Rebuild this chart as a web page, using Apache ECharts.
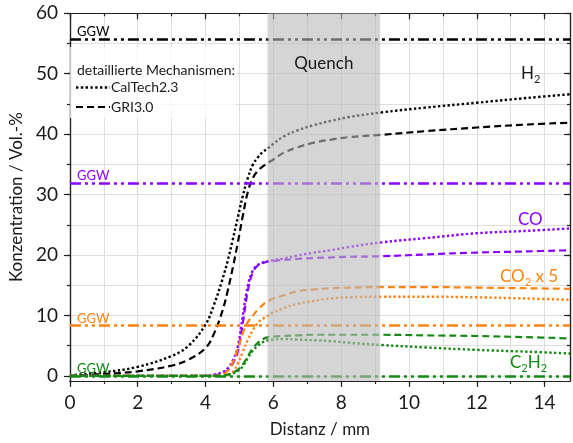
<!DOCTYPE html>
<html>
<head>
<meta charset="utf-8">
<script src="https://cdn.jsdelivr.net/npm/echarts@6/dist/echarts.min.js"></script>
<style>
  html, body { margin: 0; padding: 0; background: #fff; }
  #chart { width: 573px; height: 443px; }
</style>
</head>
<body>
<div id="chart"></div>
<script>
// Distanz in mm (shared x positions of all curves)
const xDist = [0, 1, 2, 3, 3.5, 4, 4.25, 4.5, 4.65, 4.8, 4.95, 5.1, 5.25, 5.4, 5.55, 5.7, 5.85, 6.0, 6.3, 6.7, 7.2, 7.7, 8.2, 9.2, 10.5, 12, 13.5, 14.75];

// H2
const h2CalTech = [0.1, 0.6, 1.5, 3.3, 5.0, 8.5, 11.8, 16.0, 19.0, 22.5, 26.2, 29.8, 32.8, 35.0, 36.2, 37.1, 37.7, 38.4, 39.6, 40.6, 41.5, 42.2, 42.8, 43.6, 44.4, 45.2, 46.0, 46.6];
const h2Gri = [0, 0.3, 0.75, 1.7, 2.7, 4.6, 7.0, 10.8, 14.0, 17.8, 22.0, 26.5, 30.5, 32.8, 34.0, 34.7, 35.3, 35.8, 36.9, 37.8, 38.6, 39.1, 39.5, 39.9, 40.5, 41.1, 41.6, 41.9];
// CO
const coCalTech = [0, 0, 0, 0, 0, 0, 0.2, 0.6, 1.2, 2.5, 4.8, 10.0, 15.0, 17.5, 18.4, 18.8, 19.0, 19.15, 19.4, 19.9, 20.4, 20.8, 21.3, 22.1, 22.8, 23.6, 24.0, 24.4];
const coGri = [0, 0, 0, 0, 0, 0, 0.1, 0.4, 0.9, 2.0, 4.0, 8.8, 14.2, 17.2, 18.3, 18.7, 18.9, 19.0, 19.2, 19.35, 19.5, 19.6, 19.7, 19.8, 20.1, 20.4, 20.6, 20.8];
// CO2 x 5
const co2CalTech = [0, 0, 0, 0, 0, 0, 0, 0, 0.1, 0.6, 2.0, 4.0, 6.0, 7.6, 8.8, 9.5, 10.0, 10.5, 11.2, 11.9, 12.4, 12.8, 13.0, 13.1, 13.1, 13.0, 12.8, 12.6];
const co2Gri = [0, 0, 0, 0, 0, 0, 0, 0.2, 0.8, 2.2, 4.4, 7.1, 8.9, 10.0, 11.0, 11.8, 12.4, 12.8, 13.3, 14.0, 14.3, 14.5, 14.6, 14.7, 14.7, 14.6, 14.5, 14.4];
// C2H2
const c2h2CalTech = [0, 0, 0, 0, 0, 0, 0, 0, 0.15, 0.4, 0.8, 1.6, 3.0, 4.2, 5.0, 5.6, 5.9, 6.0, 6.1, 6.0, 5.9, 5.75, 5.5, 5.1, 4.7, 4.3, 4.0, 3.7];
const c2h2Gri = [0, 0, 0, 0, 0, 0, 0, 0, 0.2, 0.5, 1.0, 1.9, 3.3, 4.6, 5.5, 6.1, 6.4, 6.5, 6.6, 6.7, 6.8, 6.8, 6.8, 6.8, 6.7, 6.6, 6.4, 6.2];

// Gleichgewichtswerte (GGW)
const ggwH2 = 55.7;
const ggwCo = 31.9;
const ggwCo2 = 8.3;
const ggwC2h2 = 0;

// Quench-Bereich
const quenchRange = [5.83, 9.15];

// Achsen
const xMin = 0, xMax = 14.75;
const yMin = -0.85, yMax = 60;
const xMajorTicks = [0, 2, 4, 6, 8, 10, 12, 14];
const xMinorTicks = [0, 1, 2, 3, 4, 5, 6, 7, 8, 9, 10, 11, 12, 13, 14];
const yMajorTicks = [0, 10, 20, 30, 40, 50, 60];
const yMinorTicks = [0, 5, 10, 15, 20, 25, 30, 35, 40, 45, 50, 55, 60];

const FONT = 'Lato';
const BLACK = '#000000';
const PURPLE = '#8c00ff';
const ORANGE = '#ff8411';
const GREEN = '#138a13';
const DOTTED = [2.4, 2.4];
const DASHED = [7, 4];
const GGW_DASH = [11, 4, 3, 4, 3, 4];

const chart = echarts.init(document.getElementById('chart'));

function zip(xs, ys) {
  return xs.map((x, i) => [x, ys[i]]);
}

function curve(name, vals, color, dash) {
  return {
    name: name,
    type: 'line',
    data: zip(xDist, vals),
    symbol: 'none',
    smooth: 0.4,
    silent: true,
    z: 2,
    lineStyle: { color: color, width: dash === DOTTED ? 2.4 : 2.2, type: dash, cap: 'butt' }
  };
}

function ggw(value, color) {
  return {
    yAxis: value,
    lineStyle: { color: color },
    label: { color: color }
  };
}

const axisLineStyle = { show: true, onZero: false, lineStyle: { color: '#222', width: 1.2 } };
const gridLineColor = '#dedede';

function xAxisDef(pos, ticks, len, inside, labels, split) {
  return {
    type: 'value',
    min: xMin,
    max: xMax,
    position: pos,
    axisLine: axisLineStyle,
    axisTick: { show: true, inside: inside, length: len, customValues: ticks, lineStyle: { color: '#222', width: 1.2 } },
    axisLabel: labels
      ? { show: true, customValues: xMajorTicks, fontFamily: FONT, fontSize: 19, color: '#1a1a1a', margin: 12 }
      : { show: false },
    splitLine: { show: split, lineStyle: { color: gridLineColor, width: 1 } }
  };
}

function yAxisDef(pos, ticks, len, inside, labels, split) {
  return {
    type: 'value',
    min: yMin,
    max: yMax,
    position: pos,
    axisLine: axisLineStyle,
    axisTick: { show: true, inside: inside, length: len, customValues: ticks, lineStyle: { color: '#222', width: 1.2 } },
    axisLabel: labels
      ? { show: true, customValues: yMajorTicks, fontFamily: FONT, fontSize: 19, color: '#1a1a1a', margin: 12 }
      : { show: false },
    splitLine: { show: split, lineStyle: { color: gridLineColor, width: 1 } }
  };
}

const xMain = xAxisDef('bottom', xMajorTicks, 6, false, true, false);
xMain.name = 'Distanz / mm';
xMain.nameLocation = 'middle';
xMain.nameGap = 40;
xMain.nameTextStyle = { fontFamily: FONT, fontSize: 17, color: '#1a1a1a' };

const yMain = yAxisDef('left', yMajorTicks, 6, false, true, false);
yMain.name = 'Konzentration / Vol.-%';
yMain.nameLocation = 'middle';
yMain.nameGap = 38;
yMain.nameTextStyle = { fontFamily: FONT, fontSize: 17, color: '#1a1a1a' };

function speciesLabel(text, x, y, color) {
  return {
    type: 'text',
    x: x,
    y: y,
    z: 50,
    silent: true,
    style: {
      text: text,
      fill: color,
      verticalAlign: 'middle',
      rich: {
        m: { fontFamily: FONT, fontSize: 17, lineHeight: 22, color: color },
        s: { fontFamily: FONT, fontSize: 11, lineHeight: 12, padding: [10, 0, 0, 0], verticalAlign: 'bottom', color: color }
      }
    }
  };
}

function legendEntry(text, y, dash) {
  return [
    {
      type: 'line',
      z: 50,
      silent: true,
      shape: { x1: 76, y1: y, x2: 110, y2: y },
      style: { stroke: BLACK, lineWidth: dash === DOTTED ? 2.4 : 2.2, lineDash: dash }
    },
    {
      type: 'text',
      x: 111,
      y: y,
      z: 50,
      silent: true,
      style: { text: text, fontFamily: FONT, fontSize: 14, fill: '#1a1a1a', verticalAlign: 'middle' }
    }
  ];
}

const baseGraphics = [
  {
    type: 'rect',
    z: 1,
    silent: true,
    shape: { x: 70, y: 47, width: 166, height: 71 },
    style: { fill: 'rgba(255,255,255,0.75)' }
  },
  {
    type: 'text',
    x: 77,
    y: 70,
    z: 50,
    silent: true,
    style: { text: 'detaillierte Mechanismen:', fontFamily: FONT, fontSize: 14, fill: '#1a1a1a', verticalAlign: 'middle' }
  }
].concat(
  legendEntry('CalTech2.3', 87.5, DOTTED),
  legendEntry('GRI3.0', 107, DASHED),
  [
    speciesLabel('{m|H}{s|2}', 521, 74, '#1a1a1a'),
    speciesLabel('{m|CO}', 518, 220, PURPLE),
    speciesLabel('{m|CO}{s|2}{m| x 5}', 500, 277, ORANGE),
    speciesLabel('{m|C}{s|2}{m|H}{s|2}', 510, 363, GREEN)
  ]
);

const option = {
  animation: false,
  backgroundColor: '#ffffff',
  grid: { left: 64.5, right: 3, top: 13.3, bottom: 59.5, containLabel: false },
  xAxis: [
    xMain,
    xAxisDef('bottom', xMinorTicks, 3, false, false, true),
    xAxisDef('top', xMajorTicks, 6, true, false, false),
    xAxisDef('top', xMinorTicks, 3, true, false, false)
  ],
  yAxis: [
    yMain,
    yAxisDef('left', yMinorTicks, 3, false, false, true),
    yAxisDef('right', yMajorTicks, 6, true, false, false),
    yAxisDef('right', yMinorTicks, 3, true, false, false)
  ],
  graphic: baseGraphics,
  series: [
    curve('H2 CalTech2.3', h2CalTech, BLACK, DOTTED),
    curve('H2 GRI3.0', h2Gri, BLACK, DASHED),
    curve('CO CalTech2.3', coCalTech, PURPLE, DOTTED),
    curve('CO GRI3.0', coGri, PURPLE, DASHED),
    curve('CO2 CalTech2.3', co2CalTech, ORANGE, DOTTED),
    curve('CO2 GRI3.0', co2Gri, ORANGE, DASHED),
    curve('C2H2 CalTech2.3', c2h2CalTech, GREEN, DOTTED),
    curve('C2H2 GRI3.0', c2h2Gri, GREEN, DASHED),
    {
      name: 'GGW',
      type: 'line',
      data: [],
      z: 2,
      silent: true,
      markLine: {
        silent: true,
        symbol: 'none',
        animation: false,
        lineStyle: { type: GGW_DASH, width: 2.5 },
        label: {
          show: true,
          formatter: 'GGW',
          position: 'insideStartTop',
          distance: [7, 0.5],
          fontFamily: FONT,
          fontSize: 13
        },
        data: [
          ggw(ggwH2, BLACK),
          ggw(ggwCo, PURPLE),
          ggw(ggwCo2, ORANGE),
          ggw(ggwC2h2, GREEN)
        ]
      }
    }
  ]
};

chart.setOption(option);

// Quench band: placed through the axes' own scales, drawn over the curves
const pTop = chart.convertToPixel({ xAxisIndex: 0, yAxisIndex: 0 }, [quenchRange[0], yMax]);
const pBot = chart.convertToPixel({ xAxisIndex: 0, yAxisIndex: 0 }, [quenchRange[1], yMin]);
chart.setOption({
  graphic: baseGraphics.concat([
    {
      type: 'rect',
      z: 20,
      silent: true,
      shape: { x: pTop[0], y: pTop[1], width: pBot[0] - pTop[0], height: pBot[1] - pTop[1] },
      style: { fill: 'rgba(185,185,185,0.6)' }
    },
    {
      type: 'text',
      x: (pTop[0] + pBot[0]) / 2,
      y: pTop[1] + 50,
      z: 50,
      silent: true,
      style: { text: 'Quench', fontFamily: FONT, fontSize: 17, fill: '#1a1a1a', align: 'center', verticalAlign: 'middle' }
    }
  ])
}, { replaceMerge: ['graphic'] });
</script>
</body>
</html>
